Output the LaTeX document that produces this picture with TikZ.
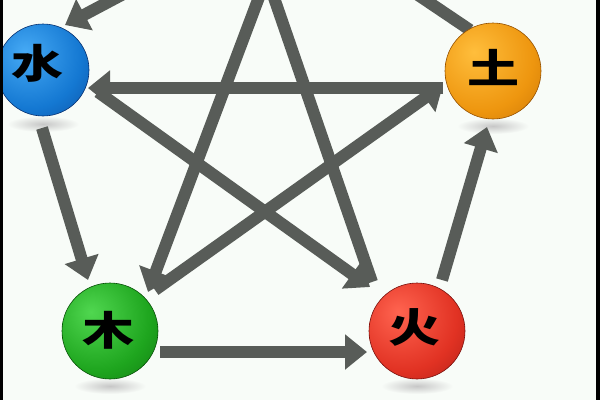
\documentclass[tikz,border=0pt]{standalone}
\usepackage{fontspec}
\usepackage{graphicx}
\newfontfamily\cjk{Noto Sans CJK SC}
\usetikzlibrary{arrows.meta,calc}
\definecolor{bgwhite}{RGB}{248,252,248}
\definecolor{arrowgray}{RGB}{88,92,88}
\definecolor{shuiA}{RGB}{70,170,245}
\definecolor{shuiB}{RGB}{20,120,210}
\definecolor{shuiC}{RGB}{8,60,140}
\definecolor{tuA}{RGB}{255,190,60}
\definecolor{tuB}{RGB}{238,150,15}
\definecolor{tuC}{RGB}{185,100,0}
\definecolor{muA}{RGB}{80,215,80}
\definecolor{muB}{RGB}{30,165,30}
\definecolor{muC}{RGB}{10,100,10}
\definecolor{huoA}{RGB}{255,100,80}
\definecolor{huoB}{RGB}{225,50,35}
\definecolor{huoC}{RGB}{150,20,15}
\pgfdeclareradialshading{shuiball}{\pgfpoint{-10bp}{10bp}}{color(0bp)=(shuiA); color(28bp)=(shuiB); color(55bp)=(shuiC); color(100bp)=(shuiC)}
\pgfdeclareradialshading{tuball}{\pgfpoint{-10bp}{10bp}}{color(0bp)=(tuA); color(28bp)=(tuB); color(55bp)=(tuC); color(100bp)=(tuC)}
\pgfdeclareradialshading{muball}{\pgfpoint{-10bp}{10bp}}{color(0bp)=(muA); color(28bp)=(muB); color(55bp)=(muC); color(100bp)=(muC)}
\pgfdeclareradialshading{huoball}{\pgfpoint{-10bp}{10bp}}{color(0bp)=(huoA); color(28bp)=(huoB); color(55bp)=(huoC); color(100bp)=(huoC)}
\tikzset{
  ball/.style={circle, minimum size=#1, inner sep=0pt},
  conn/.style={draw=arrowgray, line width=12pt, -{Triangle[width=34pt,length=22pt]}},
  glyph/.style={font=\fontsize{40}{40}\selectfont\cjk\bfseries, inner sep=0pt, text=black},
  reflect/.style={inner color=black!22, outer color=bgwhite}
}
\begin{document}
\begin{tikzpicture}[x=1pt,y=-1pt]
\useasboundingbox (0,0) rectangle (600,400);
\fill[bgwhite] (0,0) rectangle (600,400);
\begin{scope}
\clip (0,0) rectangle (600,400);
% reflections
\shade[reflect] (43,124) ellipse [x radius=36pt, y radius=8pt];
\shade[reflect] (493,126) ellipse [x radius=36pt, y radius=8pt];
\shade[reflect] (110,386) ellipse [x radius=36pt, y radius=8pt];
\shade[reflect] (417,386) ellipse [x radius=36pt, y radius=8pt];
% balls (positions)
\coordinate (shuiC) at (43,70);
\coordinate (tuC) at (493,71);
\coordinate (muC) at (110,331);
\coordinate (huoC) at (417,331);
\coordinate (jinA) at (180,-36);
\coordinate (jinB) at (378,-32);
\coordinate (jinC) at (273,-40);
\coordinate (jinD) at (261,-40);
% connectors
\draw[conn] (jinA) -- ($(shuiC)+(22,-45)$);
\draw[conn] ($(tuC)+(-23,-41)$) -- (jinB);
\draw[conn] ($(shuiC)+(-1,58)$) -- ($(muC)+(-22,-51)$);
\draw[conn] ($(muC)+(50,21)$) -- ($(huoC)+(-50,21)$);
\draw[conn] ($(huoC)+(25,-51)$) -- ($(tuC)+(-6,56)$);
\draw[conn] ($(tuC)+(-50,17)$) -- ($(shuiC)+(45,18)$);
\draw[conn] ($(muC)+(45,-41)$) -- ($(tuC)+(-50,14)$);
\draw[conn] (jinC) -- ($(muC)+(38,-39)$);
\draw[conn] ($(huoC)+(-45,-49)$) -- (jinD);
\draw[conn] ($(shuiC)+(55,22)$) -- ($(huoC)+(-47,-44)$);
% balls
\node[ball=92pt, shading=shuiball, draw=shuiC!80!black, line width=0.6pt] (shui) at (shuiC) {};
\node[ball=96pt, shading=tuball, draw=tuC!80!black, line width=0.6pt] (tu) at (tuC) {};
\node[ball=96pt, shading=muball, draw=muC!80!black, line width=0.6pt] (mu) at (muC) {};
\node[ball=96pt, shading=huoball, draw=huoC!80!black, line width=0.6pt] (huo) at (huoC) {};
% glyphs
\node[glyph] (shuit) at ($(shui)+(-6,-7)$) {\scalebox{1.3}[1]{水}};
\node[glyph] (tut) at ($(tu)+(0,-4)$) {\scalebox{1.3}[1]{土}};
\node[glyph] (mut) at ($(mu)+(-2,-1)$) {\scalebox{1.3}[1]{木}};
\node[glyph] (huot) at ($(huo)+(-3,-4)$) {\scalebox{1.3}[1]{火}};
\end{scope}
\fill[black] (0,0) rectangle (3,400);
\fill[black] (596,0) rectangle (600,400);
\end{tikzpicture}
\end{document}
